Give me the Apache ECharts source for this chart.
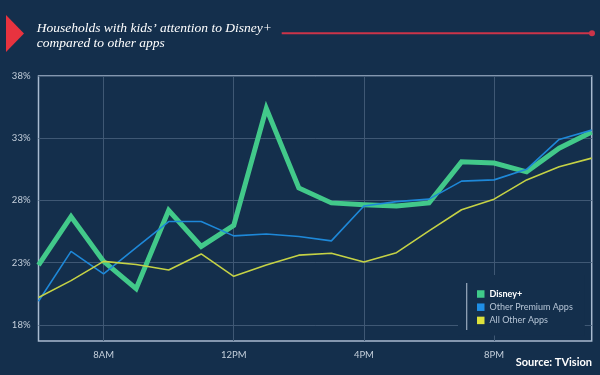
<!DOCTYPE html>
<html>
<head>
<meta charset="utf-8">
<script src="https://cdn.jsdelivr.net/npm/echarts@6/dist/echarts.min.js"></script>
<style>
  html, body { margin: 0; padding: 0; background: #142f4c; }
  #chart { width: 600px; height: 375px; }
</style>
</head>
<body>
<div id="chart"></div>
<script>
// hourly points, 6AM .. 11PM
const hours = ["6AM", "7AM", "8AM", "9AM", "10AM", "11AM", "12PM", "1PM", "2PM",
  "3PM", "4PM", "5PM", "6PM", "7PM", "8PM", "9PM", "10PM", "11PM"];
const disney = [22.8, 26.7, 23.1, 20.9, 27.2, 24.3, 26.0, 35.4, 29.0,
  27.8, 27.65, 27.55, 27.8, 31.1, 31.0, 30.3, 32.2, 33.5];
const premium = [19.9, 23.9, 22.1, 24.2, 26.3, 26.3, 25.15, 25.3, 25.1,
  24.75, 27.55, 27.9, 28.1, 29.55, 29.65, 30.5, 32.9, 33.65];
const allOther = [20.2, 21.55, 23.1, 22.85, 22.4, 23.7, 21.9, 22.8, 23.6,
  23.75, 23.05, 23.8, 25.55, 27.25, 28.1, 29.65, 30.7, 31.4];
const yTicks = [18, 23, 28, 33, 38];
const xTickLabels = ["8AM", "12PM", "4PM", "8PM"];

const showTick = (i, v) => xTickLabels.indexOf(v) !== -1;

let myChart = echarts.init(document.getElementById("chart"));
myChart.setOption({
  backgroundColor: "#142f4c",
  animation: false,
  grid: {
    left: 38.5,
    right: 8.3,
    top: 76,
    bottom: 34,
    show: true,
    borderColor: "#a9bbd0",
    borderWidth: 1.5,
  },
  legend: {
    orient: "vertical",
    left: 458,
    top: 275,
    padding: [14, 12, 10, 19],
    backgroundColor: "#142f4c",
    icon: "rect",
    itemWidth: 7.5,
    itemHeight: 7.5,
    itemGap: 3.2,
    textStyle: {
      color: "#b6c5d6",
      fontSize: 9,
      lineHeight: 10,
      fontFamily: "Lato",
    },
    data: [
      { name: "Disney+", textStyle: { color: "#ffffff", fontWeight: "bold" } },
      { name: "Other Premium Apps" },
      { name: "All Other Apps" },
    ],
  },
  xAxis: {
    type: "category",
    boundaryGap: false,
    data: hours,
    axisLine: { show: false },
    axisTick: { show: false },
    axisLabel: {
      interval: showTick,
      color: "#c4cfdb",
      fontSize: 9.5,
      fontFamily: "Lato",
      margin: 9,
    },
    splitLine: {
      show: true,
      interval: showTick,
      lineStyle: { color: "#3f5874", width: 1 },
    },
  },
  yAxis: {
    type: "value",
    min: 16.7,
    max: 38,
    axisLine: { show: false },
    axisTick: { show: false, customValues: yTicks },
    axisLabel: {
      customValues: yTicks,
      formatter: "{value}%",
      color: "#c4cfdb",
      fontSize: 9.5,
      fontFamily: "Lato",
      margin: 8,
    },
    splitLine: {
      show: true,
      lineStyle: { color: "#3f5874", width: 1 },
    },
  },
  series: [
    {
      name: "Disney+",
      type: "line",
      data: disney,
      symbol: "none",
      itemStyle: { color: "#3fcb8a" },
      lineStyle: { color: "#42c98a", width: 5, join: "miter" },
      z: 2,
    },
    {
      name: "Other Premium Apps",
      type: "line",
      data: premium,
      symbol: "none",
      itemStyle: { color: "#1f8fe6" },
      lineStyle: { color: "#1e88d8", width: 1.6 },
      z: 3,
    },
    {
      name: "All Other Apps",
      type: "line",
      data: allOther,
      symbol: "none",
      itemStyle: { color: "#dde23c" },
      lineStyle: { color: "#c5d245", width: 1.6 },
      z: 3,
    },
  ],
  graphic: [
    {
      type: "polygon",
      shape: { points: [[6, 15], [24, 33.5], [6, 52]] },
      style: { fill: "#e8333f" },
    },
    {
      type: "text",
      x: 36.7,
      y: 28,
      style: {
        text: "Households with kids’ attention to Disney+",
        fill: "#ffffff",
        font: "italic 13.5px 'Liberation Serif'",
        verticalAlign: "middle",
      },
    },
    {
      type: "text",
      x: 36.7,
      y: 43.5,
      style: {
        text: "compared to other apps",
        fill: "#ffffff",
        font: "italic 13.5px 'Liberation Serif'",
        verticalAlign: "middle",
      },
    },
    {
      type: "line",
      shape: { x1: 281.7, y1: 33.3, x2: 592, y2: 33.3 },
      style: { stroke: "#cc3449", lineWidth: 2 },
    },
    {
      type: "circle",
      shape: { cx: 592, cy: 33.3, r: 3 },
      style: { fill: "#cc3449" },
    },
    {
      type: "line",
      shape: { x1: 466.7, y1: 283, x2: 466.7, y2: 330 },
      style: { stroke: "#9aabbf", lineWidth: 1.2 },
      z: 100,
    },
    {
      type: "text",
      x: 592,
      y: 362.7,
      style: {
        text: "Source: TVision",
        fill: "#ffffff",
        font: "bold 11px Lato",
        align: "right",
        verticalAlign: "middle",
      },
    },
  ],
});
</script>
</body>
</html>
